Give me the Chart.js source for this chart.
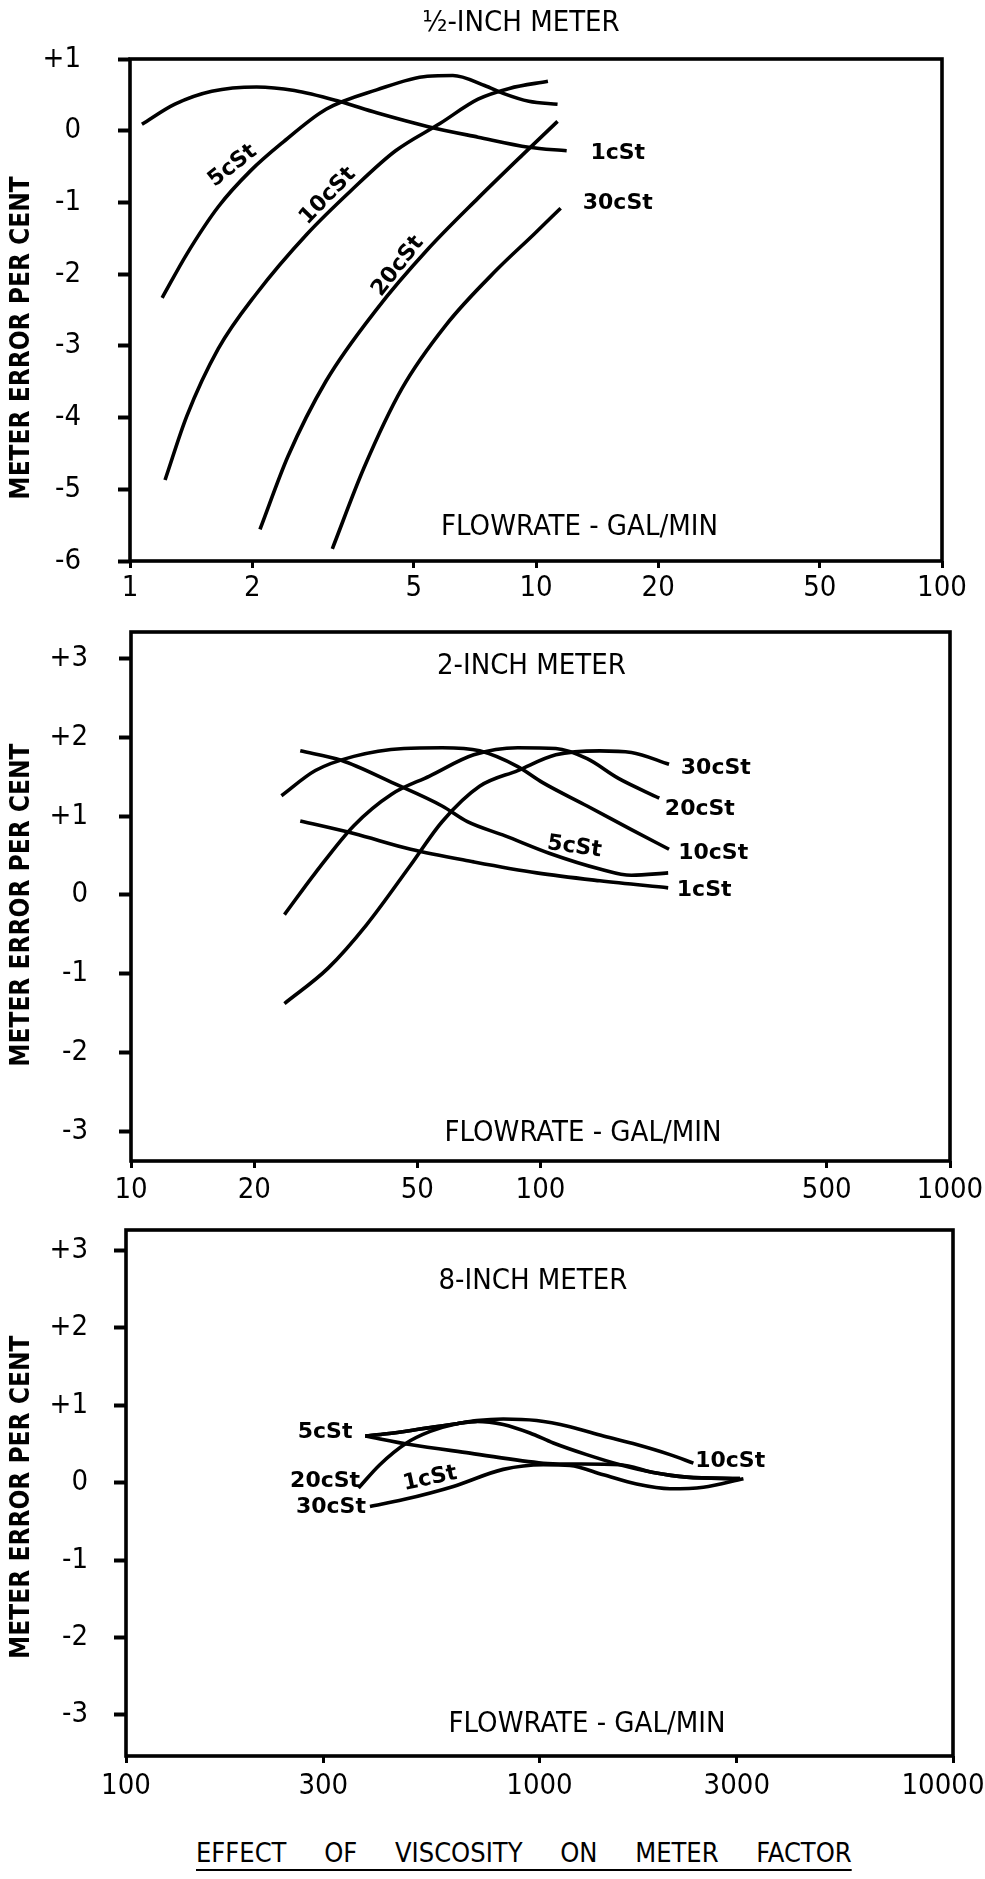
<!DOCTYPE html>
<html>
<head>
<meta charset="utf-8">
<script src="https://cdn.jsdelivr.net/npm/chart.js@4.4.1/dist/chart.umd.min.js"></script>
<style>
  html, body { margin: 0; padding: 0; background: #fff; overflow: hidden; }
  canvas { position: absolute; left: 0; }
  #c1 { top: 0; }
  #c2 { top: 615px; }
  #c3 { top: 1220px; }
  #caption {
    position: absolute; left: 196px; top: 1839px; margin: 0;
    font: 27px 'DejaVu Sans Condensed', 'Liberation Sans Narrow', 'DejaVu Sans', sans-serif;
    line-height: 1; word-spacing: 30px; color: #000;
    text-decoration: underline; text-decoration-thickness: 2px; text-underline-offset: 7px;
  }
</style>
</head>
<body>
<canvas id="c1" width="985" height="615"></canvas>
<canvas id="c2" width="985" height="605"></canvas>
<canvas id="c3" width="985" height="600"></canvas>
<p id="caption">EFFECT OF VISCOSITY ON METER FACTOR</p>
<script>
// ---- values (flow in gal/min, error in %) ----

// 1/2-inch meter
const halfTicksX = [1, 2, 5, 10, 20, 50, 100];
const halfTicksY = [-6, -5, -4, -3, -2, -1, 0, 1];
const half1Flow = [1.07, 1.29, 1.59, 2.05, 2.54, 3.27, 4.05, 5.4, 7.2, 9.6, 11.9];
const half1Err = [0.09, 0.37, 0.55, 0.61, 0.56, 0.41, 0.25, 0.06, -0.09, -0.23, -0.28];
const half5Flow = [1.2, 1.38, 1.65, 1.98, 2.37, 3.04, 4.05, 5.4, 6.24, 7.47, 8.3, 9.6, 11.3];
const half5Err = [-2.33, -1.72, -1.06, -0.56, -0.17, 0.30, 0.57, 0.76, 0.77, 0.63, 0.52, 0.41, 0.37];
const half10Flow = [1.22, 1.38, 1.65, 2.05, 2.73, 3.51, 4.51, 5.8, 7.2, 8.6, 10.7];
const half10Err = [-4.87, -3.98, -3.04, -2.27, -1.44, -0.83, -0.28, 0.10, 0.44, 0.59, 0.69];
const half20Flow = [2.09, 2.45, 3.04, 4.05, 5.4, 7.2, 9.25, 11.3];
const half20Err = [-5.56, -4.54, -3.49, -2.49, -1.66, -0.94, -0.34, 0.13];
const half30Flow = [3.15, 3.77, 4.67, 6.0, 8.0, 9.9, 11.5];
const half30Err = [-5.83, -4.70, -3.60, -2.71, -1.94, -1.44, -1.08];

// 2-inch meter
const twoTicksX = [10, 20, 50, 100, 500, 1000];
const twoTicksY = [-3, -2, -1, 0, 1, 2, 3];
const two1Flow = [25.9, 35, 48.2, 68.7, 97.9, 139.6, 205];
const two1Err = [0.94, 0.78, 0.58, 0.42, 0.28, 0.18, 0.09];
const two5Flow = [25.9, 32.6, 43.3, 57.5, 66.3, 82, 105, 139.6, 166.7, 205];
const two5Err = [1.83, 1.71, 1.43, 1.13, 0.93, 0.75, 0.53, 0.33, 0.25, 0.28];
const two10Flow = [23.3, 28.2, 35, 46.4, 57.5, 71, 88, 101, 130, 166.7, 206];
const two10Err = [1.26, 1.58, 1.76, 1.86, 1.87, 1.83, 1.63, 1.43, 1.13, 0.83, 0.58];
const two20Flow = [23.7, 28.2, 35, 43.3, 53.6, 68.7, 88, 109, 130, 155, 195];
const two20Err = [-0.25, 0.28, 0.88, 1.28, 1.51, 1.78, 1.87, 1.86, 1.73, 1.48, 1.23];
const two30Flow = [23.7, 30.3, 37.6, 48.2, 57.5, 71, 88, 109, 139.6, 166.7, 206];
const two30Err = [-1.38, -0.93, -0.38, 0.38, 0.93, 1.38, 1.58, 1.78, 1.83, 1.81, 1.66];

// 8-inch meter
const eightTicksX = [100, 300, 1000, 3000, 10000];
const eightTicksY = [-3, -2, -1, 0, 1, 2, 3];
const eight1Flow = [379, 486, 679, 1021, 1185, 1566, 1885, 2270, 3054];
const eight1Err = [0.60, 0.49, 0.38, 0.25, 0.24, 0.23, 0.13, 0.07, 0.05];
const eight5Flow = [379, 427, 514, 631, 705, 817, 948, 1080, 1300, 1566, 1885, 2270, 3054];
const eight5Err = [0.60, 0.63, 0.69, 0.76, 0.79, 0.75, 0.64, 0.51, 0.36, 0.23, 0.13, 0.07, 0.05];
const eight10Flow = [379, 427, 514, 631, 705, 817, 984, 1185, 1427, 1717, 2068, 2356];
const eight10Err = [0.60, 0.63, 0.69, 0.76, 0.80, 0.82, 0.80, 0.72, 0.60, 0.49, 0.36, 0.25];
const eight20Flow = [365, 411, 477, 544, 631, 705];
const eight20Err = [-0.07, 0.23, 0.51, 0.66, 0.76, 0.79];
const eight30Flow = [389, 469, 619, 817, 1021, 1185, 1427, 1717, 2068, 2490, 3113];
const eight30Err = [-0.31, -0.22, -0.05, 0.17, 0.23, 0.22, 0.10, -0.02, -0.08, -0.06, 0.05];

const FAMILY = "'DejaVu Sans Condensed', 'Liberation Sans Narrow', 'DejaVu Sans', sans-serif";
const PRINT = "29px " + FAMILY;
const AXIS = "bold 26px " + FAMILY;
const HAND = "bold 22px 'DejaVu Sans', sans-serif";

// box round the plot, like the inked frame
const framePlugin = {
  id: 'frame',
  afterDatasetsDraw(chart) {
    const { ctx, chartArea: a } = chart;
    ctx.save();
    ctx.strokeStyle = '#000';
    ctx.lineWidth = 3.6;
    ctx.strokeRect(a.left, a.top, a.right - a.left, a.bottom - a.top);
    ctx.restore();
  }
};

// free text placed in data units (panel titles, curve names, axis captions)
const textPlugin = {
  id: 'paperText',
  afterDraw(chart, args, opts) {
    const { ctx, scales: { x, y } } = chart;
    (opts.items || []).forEach(t => {
      ctx.save();
      ctx.translate(x.getPixelForValue(t.x), y.getPixelForValue(t.y));
      ctx.rotate((t.rot || 0) * Math.PI / 180);
      ctx.font = t.font || PRINT;
      ctx.fillStyle = '#000';
      ctx.textAlign = 'center';
      ctx.textBaseline = 'middle';
      ctx.fillText(t.text, 0, 0);
      ctx.restore();
    });
  }
};

// nudge the right-most flow label back inside the page
const edgePlugin = {
  id: 'edgeLabel',
  beforeDraw(chart, args, opts) {
    if (!opts.shift) return;
    const items = chart.scales.x.getLabelItems();
    const last = items[items.length - 1];
    if (last && !last._moved) {
      last.options.translation[0] -= opts.shift;
      last._moved = true;
    }
  }
};

function curve(flow, err) {
  return {
    data: flow.map((f, i) => ({ x: f, y: err[i] })),
    borderColor: '#000',
    borderWidth: 3.6,
    pointRadius: 0,
    cubicInterpolationMode: 'monotone',
    fill: false
  };
}

function makePanel(id, p) {
  return new Chart(document.getElementById(id), {
    type: 'line',
    data: { datasets: p.curves },
    options: {
      responsive: false,
      animation: false,
      devicePixelRatio: 1,
      layout: { padding: { top: p.padTop, right: p.padRight, left: 0, bottom: 0 } },
      plugins: {
        legend: { display: false },
        tooltip: { enabled: false },
        paperText: { items: p.texts },
        edgeLabel: { shift: p.lastShift || 0 }
      },
      scales: {
        x: {
          type: 'logarithmic',
          min: p.xMin,
          max: p.xMax,
          afterBuildTicks: s => { s.ticks = p.xTicks.map(v => ({ value: v })); },
          afterFit: s => { s.height = p.xHeight; s.paddingLeft = 0; s.paddingRight = 0; },
          ticks: {
            callback: v => String(v),
            autoSkip: false, maxRotation: 0, padding: p.xPad,
            color: '#000', font: { family: FAMILY, size: 29 }
          },
          grid: { drawOnChartArea: false, tickLength: 7, tickWidth: 3, color: '#000' },
          border: { display: false }
        },
        y: {
          type: 'linear',
          min: p.yMin,
          max: p.yMax,
          afterBuildTicks: s => { s.ticks = p.yTicks.map(v => ({ value: v })); },
          afterFit: s => { s.width = p.yWidth; s.paddingTop = 0; s.paddingBottom = 0; },
          ticks: {
            callback: v => (v > 0 ? '+' + v : String(v)),
            padding: p.yPad,
            color: '#000', font: { family: FAMILY, size: 29 }
          },
          grid: { drawOnChartArea: false, tickLength: 12, tickWidth: 4, color: '#000' },
          border: { display: false }
        }
      }
    },
    plugins: [framePlugin, textPlugin, edgePlugin]
  });
}

makePanel('c1', {
  curves: [
    curve(half1Flow, half1Err), curve(half5Flow, half5Err), curve(half10Flow, half10Err),
    curve(half20Flow, half20Err), curve(half30Flow, half30Err)
  ],
  xMin: 1, xMax: 100, yMin: -6, yMax: 1,
  xTicks: halfTicksX, yTicks: halfTicksY,
  padTop: 59, padRight: 43, xHeight: 54, yWidth: 130, yPad: 37, xPad: 3,
  texts: [
    { text: '\u00BD-INCH METER', x: 9.18, y: 1.5 },
    { text: 'FLOWRATE - GAL/MIN', x: 12.8, y: -5.53 },
    { text: 'METER ERROR PER CENT', x: 0.542, y: -2.89, rot: -90, font: AXIS },
    { text: '5cSt', x: 1.79, y: -0.49, rot: -38, font: HAND },
    { text: '10cSt', x: 3.07, y: -0.91, rot: -46, font: HAND },
    { text: '20cSt', x: 4.57, y: -1.89, rot: -52, font: HAND },
    { text: '1cSt', x: 15.9, y: -0.32, font: HAND },
    { text: '30cSt', x: 15.9, y: -1.01, font: HAND }
  ]
});

makePanel('c2', {
  curves: [
    curve(two1Flow, two1Err), curve(two5Flow, two5Err), curve(two10Flow, two10Err),
    curve(two20Flow, two20Err), curve(two30Flow, two30Err)
  ],
  xMin: 10, xMax: 1000, yMin: -3.38, yMax: 3.34,
  xTicks: twoTicksX, yTicks: twoTicksY,
  padTop: 17, padRight: 35, xHeight: 59, yWidth: 131, yPad: 31, xPad: 5,
  texts: [
    { text: '2-INCH METER', x: 95, y: 2.9 },
    { text: 'FLOWRATE - GAL/MIN', x: 127, y: -3.03 },
    { text: 'METER ERROR PER CENT', x: 5.42, y: -0.13, rot: -90, font: AXIS },
    { text: '30cSt', x: 268, y: 1.61, font: HAND },
    { text: '20cSt', x: 245, y: 1.09, font: HAND },
    { text: '10cSt', x: 264, y: 0.53, font: HAND },
    { text: '5cSt', x: 121, y: 0.61, rot: 8, font: HAND },
    { text: '1cSt', x: 251, y: 0.06, font: HAND }
  ]
});

makePanel('c3', {
  curves: [
    curve(eight1Flow, eight1Err), curve(eight5Flow, eight5Err), curve(eight10Flow, eight10Err),
    curve(eight20Flow, eight20Err), curve(eight30Flow, eight30Err)
  ],
  xMin: 100, xMax: 10000, yMin: -3.53, yMax: 3.26,
  xTicks: eightTicksX, yTicks: eightTicksY,
  padTop: 10, padRight: 32, xHeight: 64, yWidth: 126, yPad: 26, xPad: 6, lastShift: 10,
  texts: [
    { text: '8-INCH METER', x: 964, y: 2.59 },
    { text: 'FLOWRATE - GAL/MIN', x: 1303, y: -3.12 },
    { text: 'METER ERROR PER CENT', x: 56, y: -0.19, rot: -90, font: AXIS },
    { text: '5cSt', x: 303, y: 0.65, font: HAND },
    { text: '20cSt', x: 303, y: 0.02, font: HAND },
    { text: '30cSt', x: 313, y: -0.32, font: HAND },
    { text: '1cSt', x: 544, y: 0.05, rot: -12, font: HAND },
    { text: '10cSt', x: 2891, y: 0.28, font: HAND }
  ]
});
</script>
</body>
</html>
